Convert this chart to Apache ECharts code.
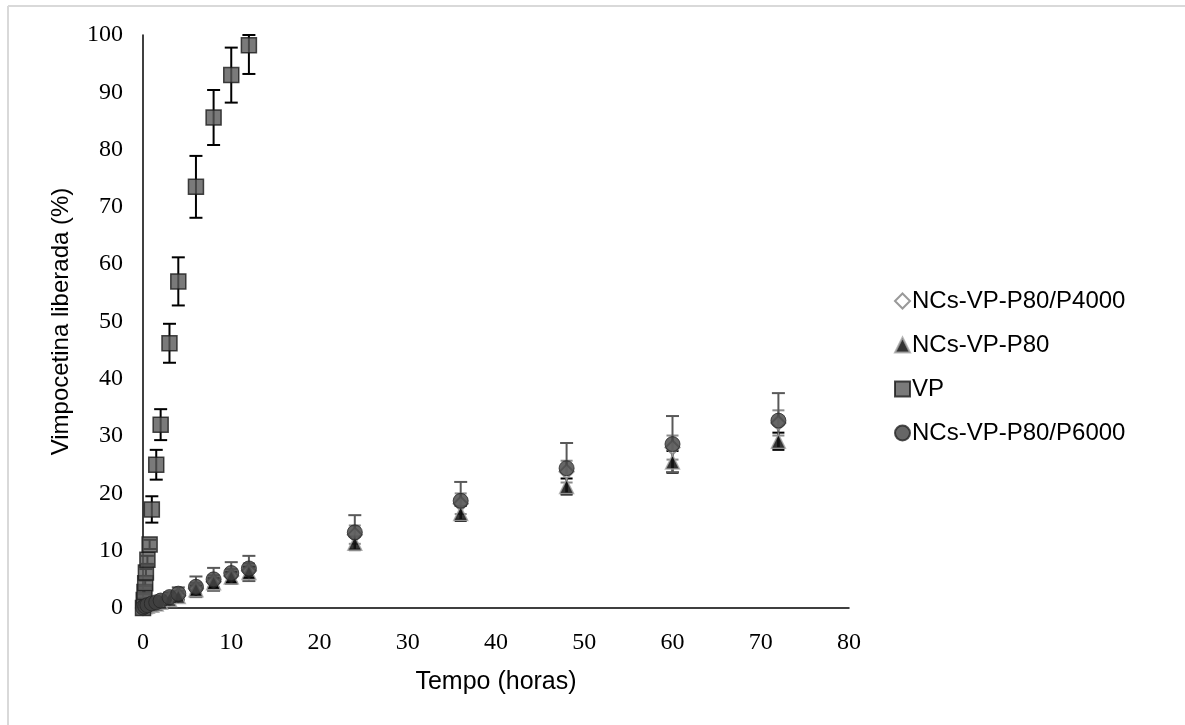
<!DOCTYPE html>
<html>
<head>
<meta charset="utf-8">
<script src="https://cdn.jsdelivr.net/npm/echarts@6/dist/echarts.min.js"></script>
<style>
html,body{margin:0;padding:0;background:#fff;}
#chart{width:1185px;height:725px;}
</style>
</head>
<body>
<div id="chart"></div>
<script>
// ---- data ----
var xTicks = [0, 10, 20, 30, 40, 50, 60, 70, 80];
var yTicks = [0, 10, 20, 30, 40, 50, 60, 70, 80, 90, 100];

var vpTime = [0, 0.083, 0.167, 0.25, 0.33, 0.5, 0.75, 1, 1.5, 2, 3, 4, 6, 8, 10, 12];
var vpVal  = [0, 1.4, 2.8, 4.3, 6.2, 8.4, 11.1, 17.2, 25.0, 32.0, 46.2, 57.0, 73.5, 85.6, 93.0, 98.2];
var vpErr  = [0, 0.3, 0.4, 0.5, 0.6, 0.7, 0.8, 2.3, 2.6, 2.7, 3.4, 4.2, 5.4, 4.8, 4.8, 5.0];

var ncTime = [0, 0.25, 0.5, 1, 1.5, 2, 3, 4, 6, 8, 10, 12, 24, 36, 48, 60, 72];

var p6000Val = [0.1, 0.3, 0.5, 0.8, 1.0, 1.3, 1.9, 2.5, 3.7, 5.0, 6.1, 6.9, 13.2, 18.7, 24.4, 28.6, 32.7];
var p6000Err = [0.2, 0.3, 0.3, 0.4, 0.5, 0.6, 0.8, 1.1, 1.8, 2.0, 1.9, 2.2, 3.0, 3.3, 4.4, 4.9, 4.8];

var p80Val = [0, 0.2, 0.3, 0.5, 0.7, 1.0, 1.5, 2.0, 3.2, 4.4, 5.4, 6.2, 11.3, 16.5, 21.2, 25.5, 29.1];
var p80Err = [0.1, 0.1, 0.2, 0.2, 0.3, 0.3, 0.4, 0.5, 0.7, 0.8, 0.9, 1.0, 1.2, 1.3, 1.4, 1.9, 1.5];

var p4000Val = [0, 0.2, 0.4, 0.6, 0.8, 1.1, 1.6, 2.2, 3.4, 4.6, 5.6, 6.5, 12.8, 18.2, 23.8, 28.0, 32.3];
var p4000Err = [0.2, 0.2, 0.3, 0.3, 0.4, 0.5, 0.6, 0.8, 1.0, 1.1, 1.2, 1.3, 1.6, 1.8, 1.9, 2.1, 2.2];

var names = ['NCs-VP-P80/P4000', 'NCs-VP-P80', 'VP', 'NCs-VP-P80/P6000'];

var Y_MAX = 100;

// ---- helpers ----
function pts(t, v) { return t.map(function (x, i) { return [x, v[i]]; }); }
function errPts(t, v, e) { return t.map(function (x, i) { return [x, v[i], e[i]]; }); }

function errSeries(data, color, width, cap) {
  return {
    type: 'custom',
    silent: true,
    data: data,
    encode: { x: 0, y: 1 },
    renderItem: function (params, api) {
      var x = api.value(0), y = api.value(1), e = api.value(2);
      var top = api.coord([x, Math.min(y + e, Y_MAX)]);
      var bot = api.coord([x, Math.max(y - e, 0)]);
      var st = { stroke: color, lineWidth: width };
      return {
        type: 'group',
        children: [
          { type: 'line', shape: { x1: top[0], y1: top[1], x2: bot[0], y2: bot[1] }, style: st },
          { type: 'line', shape: { x1: top[0] - cap, y1: top[1], x2: top[0] + cap, y2: top[1] }, style: st },
          { type: 'line', shape: { x1: bot[0] - cap, y1: bot[1], x2: bot[0] + cap, y2: bot[1] }, style: st }
        ]
      };
    }
  };
}

var serif = 'Liberation Serif, Times New Roman, serif';
var sans = 'Liberation Sans, Arial, sans-serif';

var chart = echarts.init(document.getElementById('chart'));
chart.setOption({
  backgroundColor: '#fff',
  animation: false,
  graphic: [
    { type: 'line', shape: { x1: 8, y1: 6, x2: 1185, y2: 6 }, style: { stroke: '#d9d9d9', lineWidth: 2 } },
    { type: 'line', shape: { x1: 8, y1: 6, x2: 8, y2: 725 }, style: { stroke: '#d9d9d9', lineWidth: 2 } }
  ],
  grid: { left: 143, right: 336, top: 35, bottom: 117, containLabel: false },
  legend: {
    orient: 'vertical',
    left: 889,
    top: 284,
    itemGap: 20,
    itemWidth: 15,
    itemHeight: 15,
    data: names,
    textStyle: { fontFamily: sans, fontSize: 24, lineHeight: 24, color: '#000', padding: [0, 0, 0, -3] }
  },
  xAxis: {
    type: 'value', min: 0, max: 80, interval: 10,
    name: 'Tempo (horas)', nameLocation: 'middle', nameGap: 62,
    nameTextStyle: { fontFamily: sans, fontSize: 25, color: '#000' },
    axisLine: { show: true, lineStyle: { color: '#000', width: 1.5 } },
    axisTick: { show: false },
    splitLine: { show: false },
    axisLabel: { fontFamily: serif, fontSize: 24, color: '#000', margin: 23,
      formatter: function (v) { return xTicks.indexOf(v) >= 0 ? String(v) : ''; } }
  },
  yAxis: {
    type: 'value', min: 0, max: Y_MAX, interval: 10,
    name: 'Vimpocetina liberada (%)', nameLocation: 'middle', nameGap: 70,
    nameTextStyle: { fontFamily: sans, fontSize: 24, color: '#000' },
    axisLine: { show: true, lineStyle: { color: '#000', width: 1.5 } },
    axisTick: { show: false },
    splitLine: { show: false },
    axisLabel: { fontFamily: serif, fontSize: 24, color: '#000', margin: 20,
      formatter: function (v) { return yTicks.indexOf(v) >= 0 ? String(v) : ''; } }
  },
  series: [
    errSeries(errPts(ncTime, p4000Val, p4000Err), '#8c8c8c', 2, 6),
    {
      name: names[0], type: 'scatter', data: pts(ncTime, p4000Val),
      symbol: 'diamond', symbolSize: 14,
      itemStyle: { color: '#fff', borderColor: '#7f7f7f', borderWidth: 2 }
    },
    errSeries(errPts(ncTime, p80Val, p80Err), '#000', 2, 6),
    {
      name: names[1], type: 'scatter', data: pts(ncTime, p80Val),
      symbol: 'triangle', symbolSize: 14,
      itemStyle: { color: '#000', borderColor: '#a6a6a6', borderWidth: 1.5 }
    },
    errSeries(errPts(vpTime, vpVal, vpErr), '#000', 2, 6.5),
    {
      name: names[2], type: 'scatter', data: pts(vpTime, vpVal),
      symbol: 'rect', symbolSize: 15,
      itemStyle: { color: '#595959', borderColor: '#1a1a1a', borderWidth: 1.5 }
    },
    errSeries(errPts(ncTime, p6000Val, p6000Err), '#595959', 2, 6.5),
    {
      name: names[3], type: 'scatter', data: pts(ncTime, p6000Val),
      symbol: 'circle', symbolSize: 15,
      itemStyle: { color: '#404040', borderColor: '#262626', borderWidth: 1 }
    }
  ]
});
</script>
</body>
</html>
